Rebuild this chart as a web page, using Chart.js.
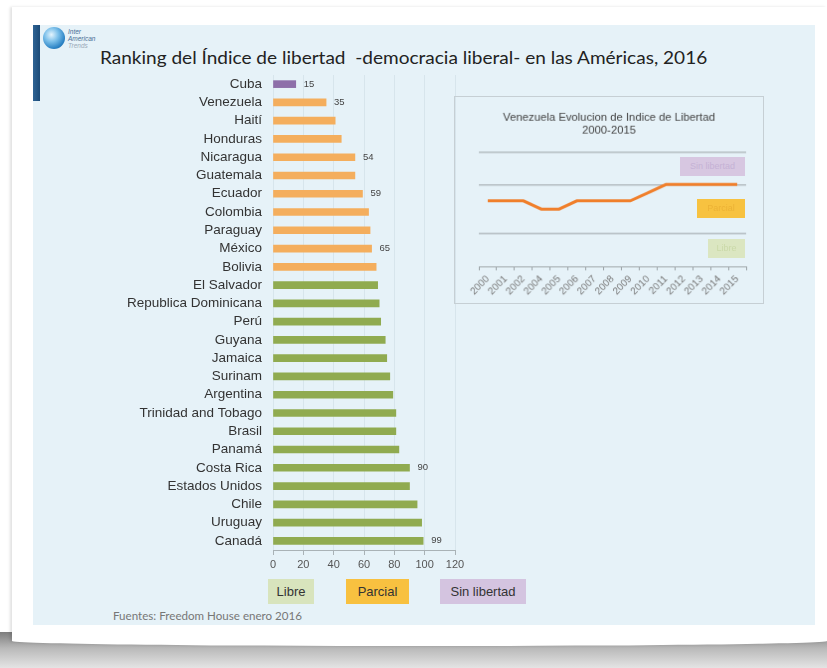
<!DOCTYPE html>
<html><head><meta charset="utf-8">
<script src="https://cdn.jsdelivr.net/npm/chart.js@4/dist/chart.umd.min.js"></script>
<style>
html,body{margin:0;padding:0;background:#fff;width:827px;height:668px;overflow:hidden;position:relative;font-family:"Liberation Sans",Arial,sans-serif;}
.abs{position:absolute;}
#shadow{left:0;top:632px;width:827px;height:36px;background:linear-gradient(#7d7d7d,#b9b9b9 45%,#e4e4e4);}
#card{left:12px;top:7px;width:815px;height:639px;background:#fff;box-shadow:-2px 0 3px rgba(0,0,0,0.12);border-radius:0 0 50% 50% / 0 0 5px 5px;}
#slide{left:33px;top:25px;width:782px;height:600px;background:#e6f2f8;}
#bar{left:33px;top:25px;width:7px;height:76px;background:linear-gradient(90deg,#2e6394,#1b4a77);}
#globe{left:43px;top:27px;width:22px;height:22px;border-radius:50%;background:radial-gradient(circle at 38% 35%,#e4f4fd 0%,#7cc0ea 35%,#2a82c4 70%,#1a5b94 100%);}
#logotext{left:68px;top:28px;font-size:6.5px;line-height:7px;font-style:italic;color:#4a6f96;}
#title{left:100px;top:48px;font-family:Lato,"Open Sans",sans-serif;font-size:17px;line-height:20px;color:#222;white-space:nowrap;transform-origin:0 50%;}
#foot{left:113px;top:610px;font-family:Lato,"Open Sans",sans-serif;font-size:10.5px;line-height:13px;color:#777;white-space:nowrap;transform-origin:0 50%;}
.lg{height:25px;line-height:25px;top:579px;font-size:13px;color:#333;text-align:center;}
.ib{height:19px;line-height:19px;font-size:9px;text-align:center;}
#c1{left:40px;top:70px;}
#c2{left:454px;top:96px;border:1px solid #c6cfd4;}
</style>
</head><body>
<div id="shadow" class="abs"></div>
<div id="card" class="abs"></div>
<div id="slide" class="abs"></div>
<div id="bar" class="abs"></div>
<div id="globe" class="abs"></div>
<div id="logotext" class="abs">Inter<br>American<br><span style="color:#9aaab8">Trends</span></div>
<div id="title" class="abs" data-w="607">Ranking del Índice de libertad &nbsp;-democracia liberal- en las Américas, 2016</div>
<canvas id="c1" class="abs" width="430" height="510"></canvas>
<canvas id="c2" class="abs" width="310" height="208"></canvas>
<div class="abs ib" style="left:680px;top:157px;width:65px;background:#d7c7e1;color:#c5b2d5;">Sin libertad</div>
<div class="abs ib" style="left:697px;top:199px;width:48px;background:#f7c240;color:#ecb235;">Parcial</div>
<div class="abs ib" style="left:708px;top:239px;width:37px;background:#dbe6c1;color:#cad9a8;">Libre</div>
<div class="abs lg" style="left:268px;width:46px;background:#d8e4bd;">Libre</div>
<div class="abs lg" style="left:346px;width:63px;background:#f8c140;">Parcial</div>
<div class="abs lg" style="left:440px;width:86px;background:#d4c4e0;">Sin libertad</div>
<div id="foot" class="abs" data-w="189">Fuentes: Freedom House enero 2016</div>
<script>
// ---- Main ranking data ----
const countries = ['Cuba','Venezuela','Haití','Honduras','Nicaragua','Guatemala','Ecuador','Colombia','Paraguay','México','Bolivia','El Salvador','Republica Dominicana','Perú','Guyana','Jamaica','Surinam','Argentina','Trinidad and Tobago','Brasil','Panamá','Costa Rica','Estados Unidos','Chile','Uruguay','Canadá'];
const scores = [15,35,41,45,54,54,59,63,64,65,68,69,70,71,74,75,77,79,81,81,83,90,90,95,98,99];
const status = ['N','P','P','P','P','P','P','P','P','P','P','L','L','L','L','L','L','L','L','L','L','L','L','L','L','L'];
const labeledCountries = ['Cuba','Venezuela','Nicaragua','Ecuador','México','Costa Rica','Canadá'];
const xTickStep = 20, xMax = 120;
// ---- Inset data ----
const years = ['2000','2001','2002','2004','2005','2006','2007','2008','2009','2010','2011','2012','2013','2014','2015'];
const venezuelaIndex = [4,4,4,3.5,3.5,4,4,4,4,4.5,5,5,5,5,5];
const insetGuides = [2,5,7];

const statusColor = {N:'#8e6fa9',P:'#f4ae5d',L:'#90ab50'};

const valueLabels = {
  id:'valueLabels',
  afterDatasetsDraw(chart){
    const ctx = chart.ctx, meta = chart.getDatasetMeta(0);
    ctx.save();
    ctx.font = '9.5px "Liberation Sans", Arial';
    ctx.fillStyle = '#444';
    ctx.textBaseline = 'middle';
    meta.data.forEach((el,i)=>{
      if (labeledCountries.includes(countries[i])) ctx.fillText(String(scores[i]), el.x+8, el.y);
    });
    ctx.restore();
  }
};

new Chart(document.getElementById('c1'), {
  type:'bar',
  data:{labels:countries, datasets:[{data:scores, backgroundColor:status.map(s=>statusColor[s]), barThickness:7, borderWidth:0}]},
  options:{
    indexAxis:'y', responsive:false, animation:false,
    layout:{padding:{top:5,right:15,left:0,bottom:0}},
    plugins:{legend:{display:false}, tooltip:{enabled:false}},
    scales:{
      x:{min:0,max:xMax,ticks:{stepSize:xTickStep,color:'#555',font:{size:11,family:'"Liberation Sans", Arial'},padding:3},
         grid:{color:'rgba(185,205,215,0.35)',tickColor:'#a9b2b6',tickLength:5},
         border:{color:'#a9b2b6'},
         afterFit(s){s.height=30; s.paddingLeft=0; s.paddingRight=0;}},
      y:{ticks:{color:'#333',font:{size:13.5,family:'"Liberation Sans", Arial'},padding:11,autoSkip:false},
         grid:{display:false,drawTicks:false}, border:{display:false},
         afterFit(s){s.width=233; s.paddingTop=0; s.paddingBottom=0;}}
    }
  },
  plugins:[valueLabels]
});

new Chart(document.getElementById('c2'), {
  type:'line',
  data:{labels:years, datasets:[{data:venezuelaIndex,borderColor:'#f07f2b',borderWidth:3,pointRadius:0,tension:0,fill:false}]},
  options:{
    responsive:false, animation:false,
    layout:{padding:{left:17,right:17,top:0,bottom:0}},
    plugins:{legend:{display:false}, tooltip:{enabled:false},
      title:{display:true,text:['Venezuela Evolucion de Indice de Libertad','2000-2015'],color:'#444',
             font:{size:11.3,weight:'normal',lineHeight:1.15,family:'"Liberation Sans", Arial'},padding:{top:14,bottom:7}}},
    scales:{
      x:{offset:true,ticks:{color:'#777',font:{size:10,family:'"Liberation Sans", Arial'},minRotation:45,maxRotation:45,padding:3,autoSkip:false},
         grid:{drawOnChartArea:false,tickLength:4,tickColor:'#9aa2a6',offset:true},
         border:{color:'#a0a8ac'},
         afterFit(s){s.height=37; s.paddingLeft=0; s.paddingRight=0;}},
      y:{min:0,max:7.5,
         afterBuildTicks(s){s.ticks=insetGuides.map(v=>({value:v}));},
         ticks:{display:false},
         grid:{color:'#b3bcc0',lineWidth:1.5,drawTicks:false},
         border:{display:false},
         afterFit(s){s.width=7; s.paddingTop=0; s.paddingBottom=0;}}
    }
  }
});

// fit text widths
document.querySelectorAll('[data-w]').forEach(el=>{
  const w = el.getBoundingClientRect().width;
  const t = parseFloat(el.dataset.w);
  if (w>0) el.style.transform = 'scaleX('+(t/w).toFixed(3)+')';
});
</script>
</body></html>
